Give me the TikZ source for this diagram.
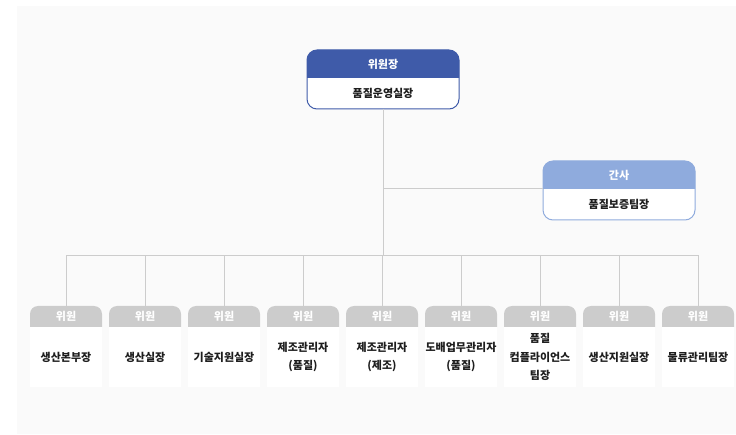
\documentclass[tikz,border=0pt]{standalone}
\usepackage{fontspec}
\setmainfont{Noto Sans CJK KR}
\usepackage{xcolor}
\usepackage{tikz}

\definecolor{chairblue}{HTML}{3F5BA9}
\definecolor{secblue}{HTML}{8FABDD}
\definecolor{memgray}{HTML}{CCCCCC}
\definecolor{linkgray}{HTML}{CCCCCC}
\definecolor{panelgray}{HTML}{FAFAFA}
\definecolor{txt}{HTML}{1E1E1E}

\begin{document}
\begin{tikzpicture}[
  x=1pt, y=-1pt,
  headfill/.style 2 args={path picture={\fill[#1, rounded corners=#2] (path picture bounding box.north west) rectangle ([yshift=-12pt]path picture bounding box.south east);}},
  bodyfill/.style={path picture={\fill[white, rounded corners=#1] ([yshift=12pt]path picture bounding box.north west) rectangle (path picture bounding box.south east);}},
  leadbody/.style={rectangle, inner sep=0pt, outer sep=0pt, minimum width=152pt, minimum height=31pt, bodyfill=10pt, font=\fontsize{11}{13}\selectfont\bfseries, text=txt},
  leadhead/.style={rectangle, inner sep=0pt, outer sep=0pt, minimum width=152pt, minimum height=28pt, headfill={#1}{10pt}, font=\fontsize{11}{13}\selectfont\bfseries, text=white},
  leadframe/.style={draw=#1, line width=1pt, rounded corners=10pt},
  member/.style={rectangle, fill=white, inner sep=0pt, outer sep=0pt, minimum width=72pt, minimum height=60pt, align=center, font=\fontsize{11}{18.5}\selectfont\bfseries, text=txt},
  memhead/.style={rectangle, inner sep=0pt, outer sep=0pt, minimum width=72pt, minimum height=21pt, headfill={memgray}{8pt}, font=\fontsize{11}{13}\selectfont\bfseries, text=white},
  link/.style={draw=linkgray, line width=1pt}
]

% Canvas
\useasboundingbox (0,0) rectangle (736,435);
\fill[panelgray] (17,6) rectangle (736,434);

% Chair
\node[leadbody, label={[leadhead=chairblue, name=chairhead]above:위원장}] (chair) at (383,93.5) {품질운영실장};
\draw[leadframe=chairblue] (chairhead.north west) rectangle (chair.south east);

% Secretary
\node[leadbody, label={[leadhead=secblue, name=sechead]above:간사}] (sec) at (619,204.5) {품질보증팀장};
\draw[leadframe=secblue] (sechead.north west) rectangle (sec.south east);

% Members
\node[member, label={[memhead, name=h1]above:위원}] (m1) at (66,357) {생산본부장};
\node[member, label={[memhead, name=h2]above:위원}] (m2) at (145,357) {생산실장};
\node[member, label={[memhead, name=h3]above:위원}] (m3) at (224,357) {기술지원실장};
\node[member, label={[memhead, name=h4]above:위원}] (m4) at (303,357) {제조관리자\\(품질)};
\node[member, label={[memhead, name=h5]above:위원}] (m5) at (382,357) {제조관리자\\(제조)};
\node[member, label={[memhead, name=h6]above:위원}] (m6) at (461,357) {도배업무관리자\\(품질)};
\node[member, label={[memhead, name=h7]above:위원}] (m7) at (540,357) {품질\\컴플라이언스\\팀장};
\node[member, label={[memhead, name=h8]above:위원}] (m8) at (619,357) {생산지원실장};
\node[member, label={[memhead, name=h9]above:위원}] (m9) at (698,357) {물류관리팀장};

% Connectors
\coordinate (bus) at (chair.south |- 0,256);
\draw[link] (chair.south) -- (bus);
\draw[link] (chair.south |- sec.north west) -- (sec.north west);
\draw[link] (bus) -| (h1.north);
\draw[link] (bus) -| (h2.north);
\draw[link] (bus) -| (h3.north);
\draw[link] (bus) -| (h4.north);
\draw[link] (bus) -| (h5.north);
\draw[link] (bus) -| (h6.north);
\draw[link] (bus) -| (h7.north);
\draw[link] (bus) -| (h8.north);
\draw[link] (bus) -| (h9.north);

\end{tikzpicture}
\end{document}
